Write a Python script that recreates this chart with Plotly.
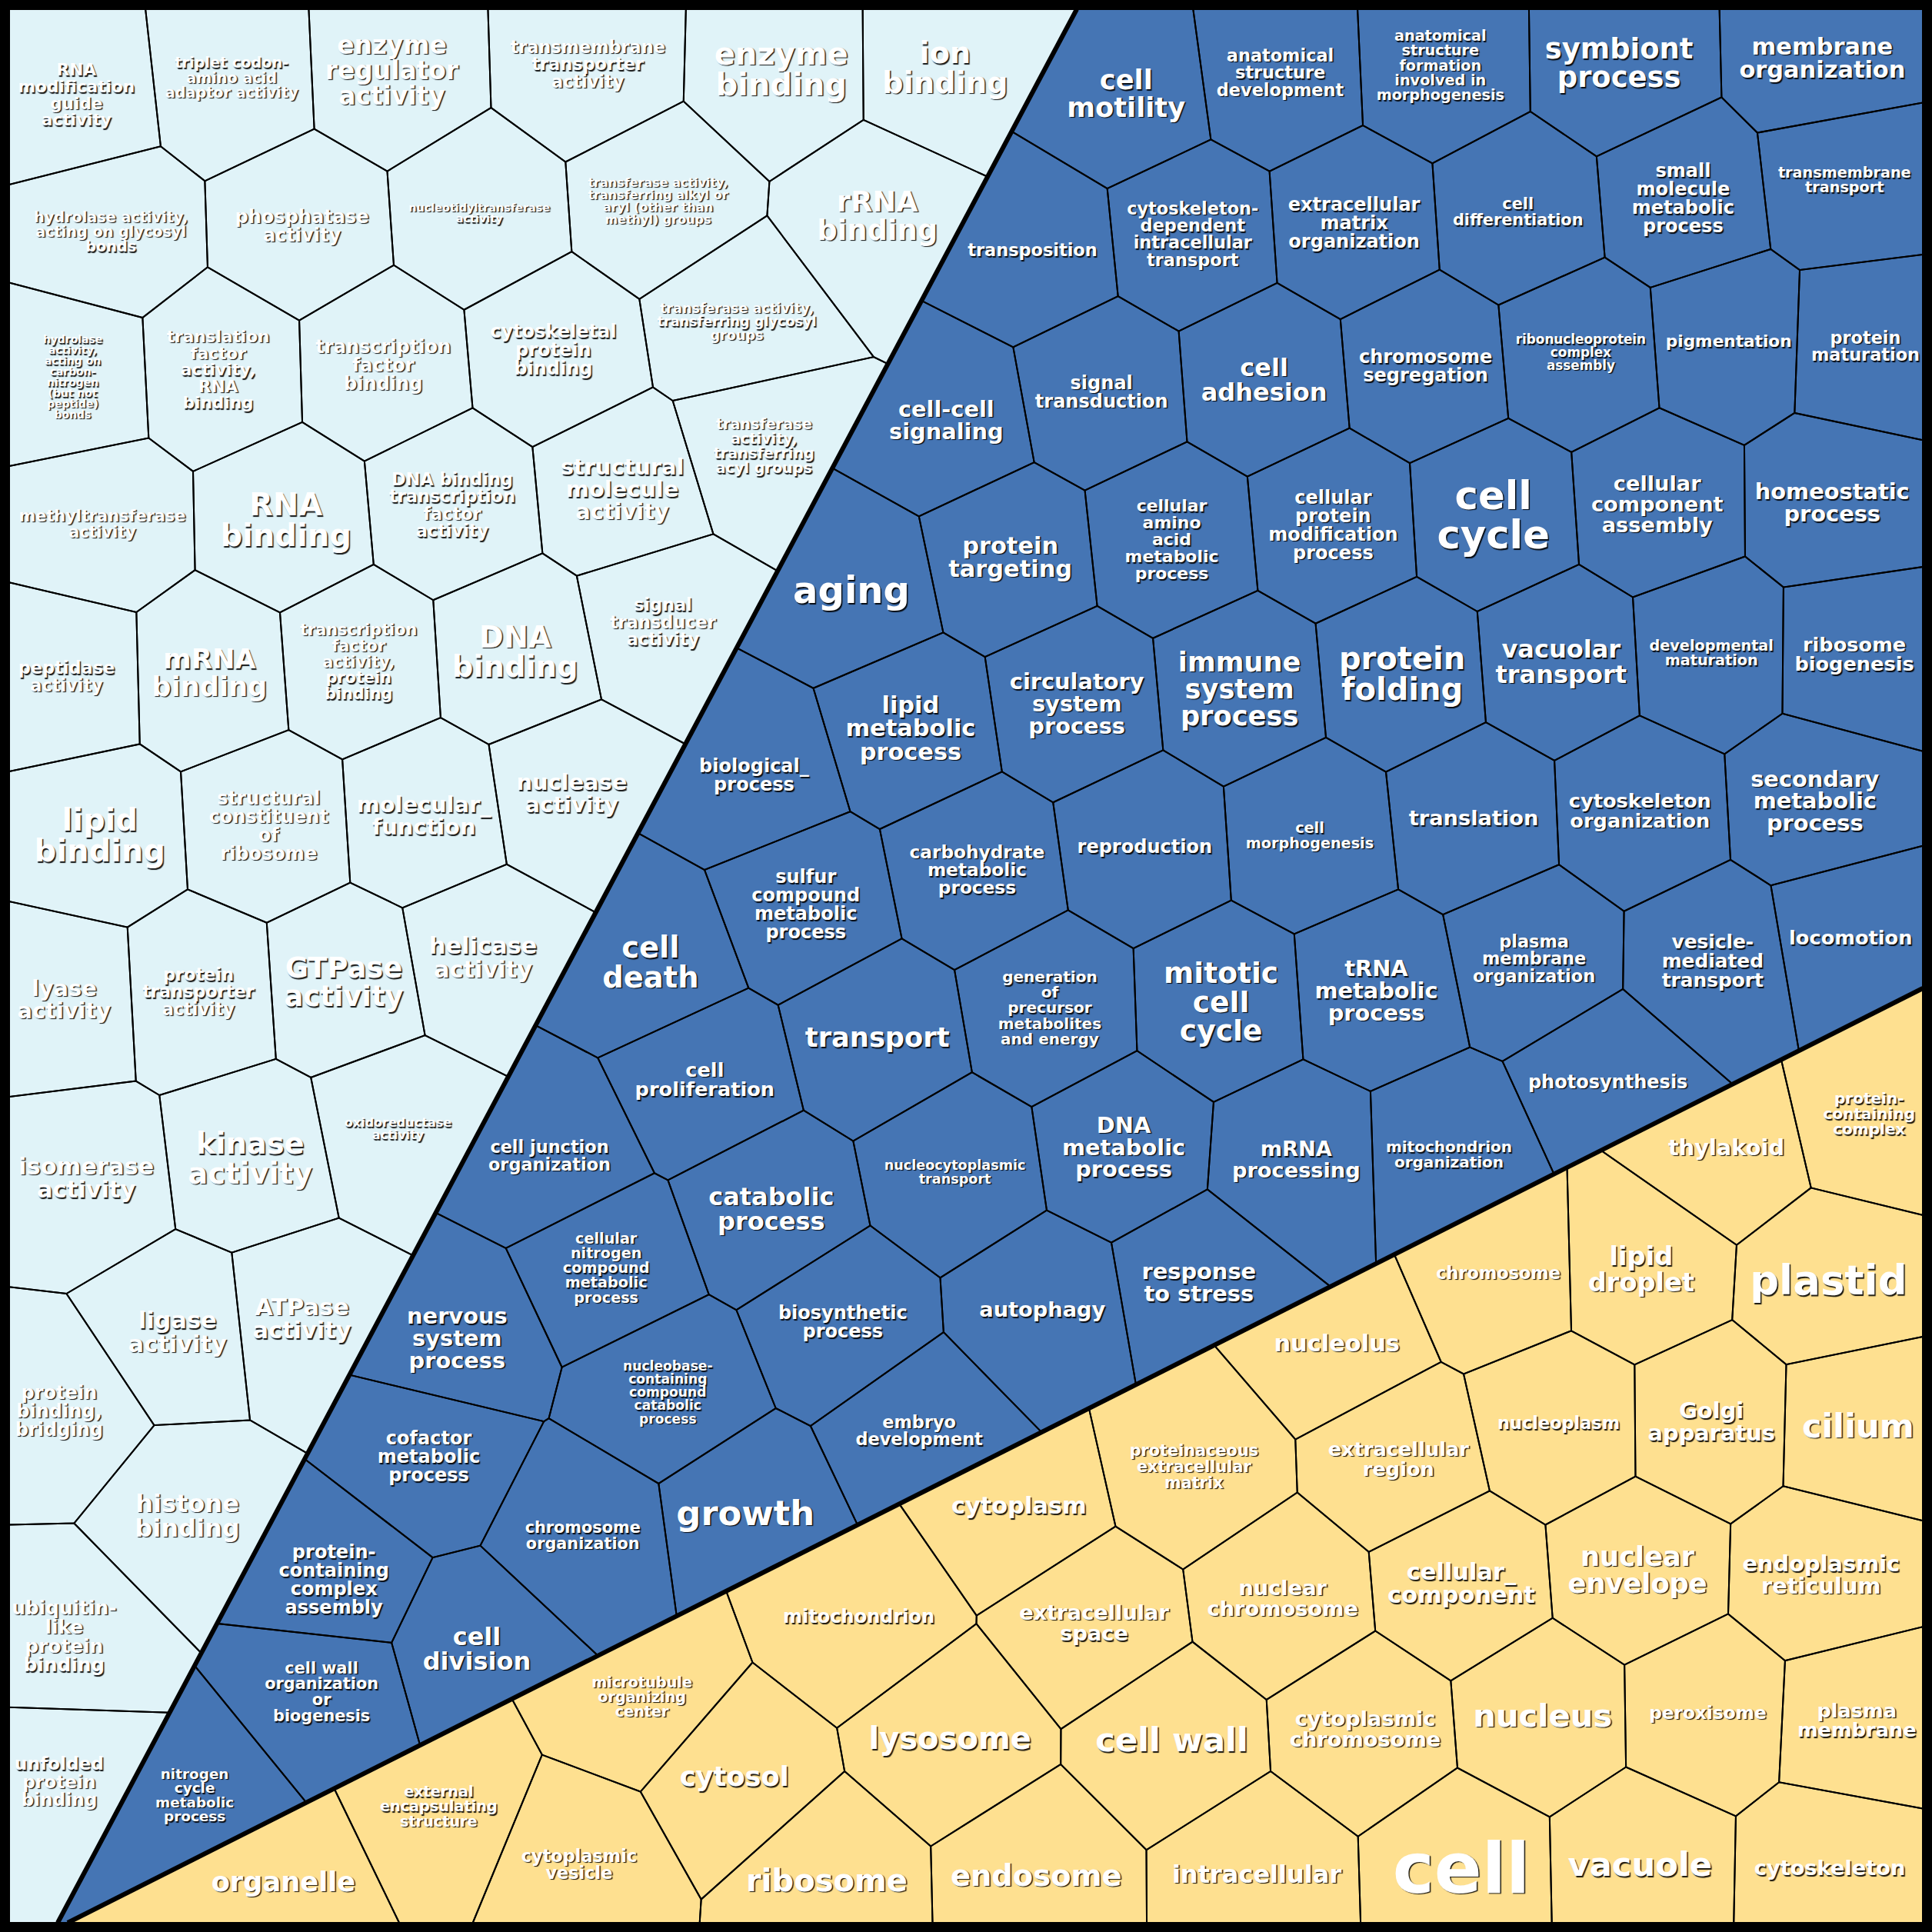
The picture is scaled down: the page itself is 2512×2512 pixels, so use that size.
import plotly.graph_objects as go

# ---------------- DATA ----------------
# Molecular function terms (light blue) and their relative weights
mf_terms = [
    "RNA\nmodification\nguide\nactivity", "triplet codon-\namino acid\nadaptor activity", "enzyme\nregulator\nactivity",
    "transmembrane\ntransporter\nactivity", "enzyme\nbinding", "ion\nbinding",
    "hydrolase activity,\nacting on glycosyl\nbonds", "phosphatase\nactivity", "nucleotidyltransferase\nactivity",
    "transferase activity,\ntransferring alkyl or\naryl (other than\nmethyl) groups", "rRNA\nbinding",
    "hydrolase\nactivity,\nacting on\ncarbon-\nnitrogen\n(but not\npeptide)\nbonds",
    "translation\nfactor\nactivity,\nRNA\nbinding", "transcription\nfactor\nbinding", "cytoskeletal\nprotein\nbinding",
    "transferase activity,\ntransferring glycosyl\ngroups", "transferase\nactivity,\ntransferring\nacyl groups",
    "methyltransferase\nactivity", "RNA\nbinding", "DNA binding\ntranscription\nfactor\nactivity",
    "structural\nmolecule\nactivity", "signal\ntransducer\nactivity", "peptidase\nactivity", "mRNA\nbinding",
    "transcription\nfactor\nactivity,\nprotein\nbinding", "DNA\nbinding", "lipid\nbinding",
    "structural\nconstituent\nof\nribosome", "molecular_\nfunction", "nuclease\nactivity", "lyase\nactivity",
    "protein\ntransporter\nactivity", "GTPase\nactivity", "helicase\nactivity", "oxidoreductase\nactivity",
    "isomerase\nactivity", "kinase\nactivity", "ligase\nactivity", "ATPase\nactivity",
    "protein\nbinding,\nbridging", "histone\nbinding", "ubiquitin-\nlike\nprotein\nbinding", "unfolded\nprotein\nbinding",
]
mf_values = [13.5, 12, 20.5, 14, 25, 24, 12, 15, 9, 10, 23, 8.7, 13.5, 15, 15, 11, 12, 13, 25, 14,
             18, 14, 14, 22, 13, 24, 25, 15, 18, 18, 18, 14, 23, 19, 10, 19, 24, 19, 19, 15, 20, 15.5, 14.5]

# Biological process terms (dark blue)
bp_terms = [
    "cell\nmotility", "anatomical\nstructure\ndevelopment",
    "anatomical\nstructure\nformation\ninvolved in\nmorphogenesis", "symbiont\nprocess", "membrane\norganization",
    "transposition", "cytoskeleton-\ndependent\nintracellular\ntransport", "extracellular\nmatrix\norganization",
    "cell\ndifferentiation", "small\nmolecule\nmetabolic\nprocess", "transmembrane\ntransport",
    "cell-cell\nsignaling", "signal\ntransduction", "cell\nadhesion", "chromosome\nsegregation",
    "ribonucleoprotein\ncomplex\nassembly", "pigmentation", "protein\nmaturation", "aging", "protein\ntargeting",
    "cellular\namino\nacid\nmetabolic\nprocess", "cellular\nprotein\nmodification\nprocess", "cell\ncycle",
    "cellular\ncomponent\nassembly", "homeostatic\nprocess", "biological_\nprocess", "lipid\nmetabolic\nprocess",
    "circulatory\nsystem\nprocess", "immune\nsystem\nprocess", "protein\nfolding", "vacuolar\ntransport",
    "developmental\nmaturation", "ribosome\nbiogenesis", "sulfur\ncompound\nmetabolic\nprocess",
    "carbohydrate\nmetabolic\nprocess", "reproduction", "cell\nmorphogenesis", "translation",
    "cytoskeleton\norganization", "secondary\nmetabolic\nprocess", "cell\ndeath", "transport",
    "generation\nof\nprecursor\nmetabolites\nand energy", "mitotic\ncell\ncycle", "tRNA\nmetabolic\nprocess",
    "plasma\nmembrane\norganization", "vesicle-\nmediated\ntransport", "locomotion", "cell\nproliferation",
    "cell junction\norganization", "photosynthesis", "catabolic\nprocess", "nucleocytoplasmic\ntransport",
    "DNA\nmetabolic\nprocess", "mRNA\nprocessing", "mitochondrion\norganization",
    "cellular\nnitrogen\ncompound\nmetabolic\nprocess", "response\nto stress", "nervous\nsystem\nprocess",
    "biosynthetic\nprocess", "autophagy", "nucleobase-\ncontaining\ncompound\ncatabolic\nprocess",
    "cofactor\nmetabolic\nprocess", "embryo\ndevelopment", "growth", "chromosome\norganization",
    "protein-\ncontaining\ncomplex\nassembly", "cell\ndivision", "cell wall\norganization\nor\nbiogenesis",
    "nitrogen\ncycle\nmetabolic\nprocess",
]
bp_values = [22, 14, 12, 23, 19, 14, 14, 15, 13, 15, 12, 18, 15, 20, 15, 10.5, 13.5, 14, 30, 19,
             13.7, 15, 32, 17, 18, 15, 19, 18, 22, 25, 20, 12, 16, 15, 14.5, 15, 12, 17, 16, 18,
             24, 22, 12.5, 23.5, 18, 14, 15.5, 16, 16, 14, 15, 20, 11, 18, 17, 12.5, 12, 18, 18, 15,
             17, 10.7, 15, 14, 28, 13, 15, 20, 13, 11.5]

# Cellular component terms (yellow)
cc_terms = [
    "protein-\ncontaining\ncomplex", "thylakoid", "chromosome", "lipid\ndroplet", "plastid", "nucleolus",
    "nucleoplasm", "Golgi\napparatus", "cilium", "proteinaceous\nextracellular\nmatrix", "extracellular\nregion",
    "cytoplasm", "nuclear\nchromosome", "cellular_\ncomponent", "nuclear\nenvelope", "endoplasmic\nreticulum",
    "mitochondrion", "extracellular\nspace", "microtubule\norganizing\ncenter", "cytoplasmic\nchromosome",
    "lysosome", "cell wall", "nucleus", "peroxisome", "plasma\nmembrane", "cytosol",
    "external\nencapsulating\nstructure", "cytoplasmic\nvesicle", "organelle", "ribosome", "endosome",
    "intracellular", "cell", "vacuole", "cytoskeleton",
]
cc_values = [12.5, 18, 14, 21, 33, 19, 14, 18, 27, 13, 16, 19, 17, 19, 22, 18, 15, 17, 12, 17,
             25, 27, 26, 14.5, 16, 22, 12, 14, 22, 25, 24, 20, 57, 27, 17]

# ---------------- LAYOUT SEEDS (voronoi generator points, layout units) ----------------
mf_seed_x = [62, 188, 318, 477, 634, 767, 90, 245, 389, 534, 712, 59, 177, 311, 449, 598, 620, 83, 232, 367,
             505, 538, 54, 170, 291, 418, 81, 218, 344, 464, 52, 161, 279, 392, 323, 70, 203, 144, 245, 48,
             152, 52, 48]
mf_seed_y = [77, 63, 57, 52, 56, 55, 188, 183, 173, 163, 175, 306, 300, 296, 284, 261, 362, 425, 422, 410,
             397, 505, 549, 546, 537, 529, 678, 670, 662, 644, 811, 805, 797, 777, 916, 956, 940, 1081, 1070,
             1145, 1230, 1328, 1446]
bp_seed_x = [914, 1039, 1169, 1314, 1479, 838, 968, 1099, 1232, 1366, 1497, 768, 894, 1026, 1157, 1283, 1403,
             1514, 691, 820, 951, 1082, 1212, 1345, 1487, 612, 739, 874, 1006, 1138, 1267, 1389, 1505, 654,
             793, 929, 1063, 1196, 1331, 1473, 528, 712, 852, 991, 1117, 1245, 1390, 1502, 572, 446, 1305,
             626, 775, 912, 1052, 1176, 492, 973, 371, 684, 846, 542, 348, 746, 605, 473, 271, 387, 261, 158]
bp_seed_y = [76, 59, 53, 51, 47, 203, 190, 181, 172, 161, 146, 341, 318, 308, 297, 286, 277, 281, 479, 452,
             438, 426, 418, 409, 408, 629, 591, 571, 559, 547, 537, 530, 531, 734, 706, 687, 678, 664, 658,
             650, 781, 842, 818, 813, 804, 778, 780, 761, 876, 938, 878, 981, 951, 931, 941, 937, 1029, 1041,
             1086, 1073, 1063, 1130, 1182, 1161, 1228, 1246, 1282, 1338, 1373, 1457]
cc_seed_x = [1517, 1401, 1216, 1332, 1484, 1085, 1265, 1389, 1508, 969, 1135, 827, 1041, 1186, 1329, 1478,
             697, 888, 521, 1108, 771, 951, 1252, 1386, 1507, 596, 356, 470, 230, 671, 841, 1020, 1186, 1331,
             1485]
cc_seed_y = [904, 931, 1033, 1030, 1039, 1090, 1155, 1154, 1157, 1190, 1184, 1222, 1297, 1285, 1274, 1278,
             1312, 1317, 1377, 1403, 1411, 1412, 1392, 1390, 1396, 1442, 1466, 1513, 1527, 1526, 1522, 1521,
             1516, 1513, 1516]

W = 2512
S = W / 1568.0

# region polygons (pixels)
A_TOP, A_BOT = (1400, 12), (75, 2500)
B_LEFT, B_RIGHT = (88, 2500), (2500, 1285)
regions = {
    "mf": [(12, 12), A_TOP, A_BOT, (12, 2500)],
    "bp": [A_TOP, (2500, 12), B_RIGHT, B_LEFT, A_BOT],
    "cc": [B_LEFT, B_RIGHT, (2500, 2500)],
}
colors = {"mf": "#E0F3F8", "bp": "#4575B4", "cc": "#FEE090"}


def clip(poly, a, b, c):
    res = []
    n = len(poly)
    for k in range(n):
        p, q = poly[k], poly[(k + 1) % n]
        fp = a * p[0] + b * p[1] - c
        fq = a * q[0] + b * q[1] - c
        if fp <= 0:
            res.append(p)
        if (fp < 0 < fq) or (fq < 0 < fp):
            t = fp / (fp - fq)
            res.append((p[0] + t * (q[0] - p[0]), p[1] + t * (q[1] - p[1])))
    return res


def voronoi(seeds, region):
    out = []
    for i, (xi, yi) in enumerate(seeds):
        poly = list(region)
        for j, (xj, yj) in enumerate(seeds):
            if i == j:
                continue
            a, b = xj - xi, yj - yi
            c = (xj * xj + yj * yj - xi * xi - yi * yi) / 2.0
            poly = clip(poly, a, b, c)
            if not poly:
                break
        out.append(poly)
    return out


fig = go.Figure()
groups = [
    ("mf", mf_terms, mf_values, mf_seed_x, mf_seed_y),
    ("bp", bp_terms, bp_values, bp_seed_x, bp_seed_y),
    ("cc", cc_terms, cc_values, cc_seed_x, cc_seed_y),
]
text_x, text_y, text_t, text_s = [], [], [], []
for key, terms, vals, sx, sy in groups:
    seeds = [(x * S, y * S) for x, y in zip(sx, sy)]
    polys = voronoi(seeds, regions[key])
    xs, ys = [], []
    for poly in polys:
        for p in poly + [poly[0]]:
            xs.append(p[0]); ys.append(p[1])
        xs.append(None); ys.append(None)
    fig.add_trace(go.Scatter(x=xs, y=ys, mode="lines", fill="toself", fillcolor=colors[key],
                             line=dict(color="black", width=2), hoverinfo="skip", showlegend=False))
    for (cx, cy), term, v in zip(seeds, terms, vals):
        fs = v * S
        lines = term.split("\n")
        n = len(lines)
        for k, ln in enumerate(lines):
            text_x.append(cx)
            text_y.append(cy + 0.1 * fs + (k - (n - 1) / 2.0) * fs * 1.0)
            text_t.append(ln)
            text_s.append(fs)

# region boundaries
for p, q in [(A_TOP, A_BOT), (B_LEFT, B_RIGHT)]:
    fig.add_trace(go.Scatter(x=[p[0], q[0]], y=[p[1], q[1]], mode="lines",
                             line=dict(color="black", width=6), hoverinfo="skip", showlegend=False))

fig.add_trace(go.Scatter(x=text_x, y=text_y, text=text_t, mode="text", textposition="middle center",
                         textfont=dict(family="DejaVu Sans", size=text_s, color="white", weight="bold",
                                       shadow="1.5px 1.5px 1px rgba(0,0,0,0.9)"),
                         hoverinfo="skip", showlegend=False))

fig.add_shape(type="rect", x0=6, y0=6, x1=W - 6, y1=W - 6, line=dict(color="black", width=12),
              fillcolor="rgba(0,0,0,0)", layer="above")

fig.update_layout(
    width=W, height=W, margin=dict(l=0, r=0, t=0, b=0),
    paper_bgcolor="white", plot_bgcolor="white",
    xaxis=dict(range=[0, W], visible=False, fixedrange=True),
    yaxis=dict(range=[W, 0], visible=False, fixedrange=True),
)
fig.write_html("out.html", config={"displayModeBar": False},
               post_script="document.body.style.margin='0px';document.body.style.padding='0px';")
